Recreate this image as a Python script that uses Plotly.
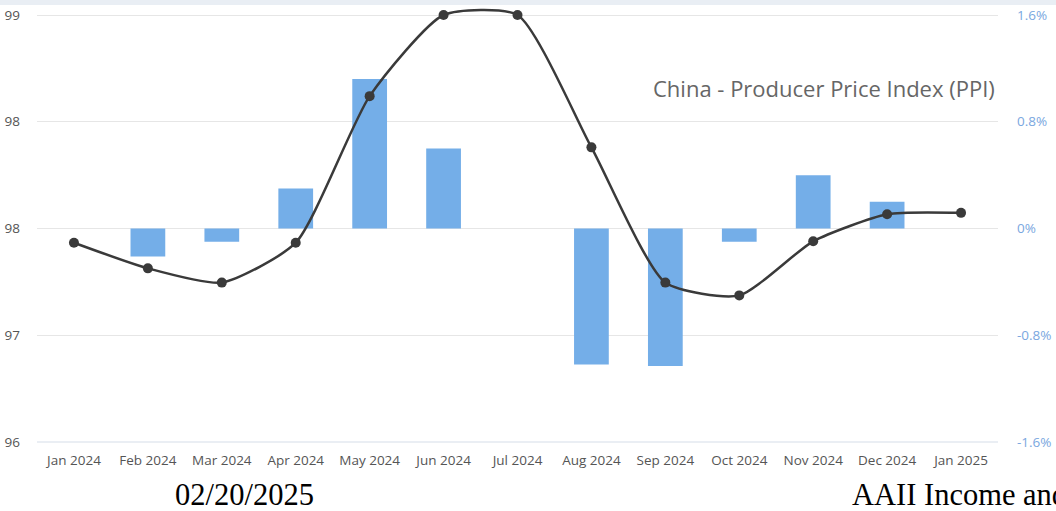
import plotly.graph_objects as go

months = ["Jan 2024", "Feb 2024", "Mar 2024", "Apr 2024", "May 2024", "Jun 2024",
          "Jul 2024", "Aug 2024", "Sep 2024", "Oct 2024", "Nov 2024", "Dec 2024", "Jan 2025"]
ppi_index = [97.40, 97.22, 97.12, 97.40, 98.43, 99.0, 99.0, 98.07, 97.12, 97.03, 97.41, 97.60, 97.61]
mom_change = [0.0, -0.21, -0.10, 0.30, 1.12, 0.60, 0.0, -1.02, -1.03, -0.10, 0.40, 0.20, 0.0]

left_ticks = [96, 96.75, 97.5, 98.25, 99]
left_text = ["96", "97", "98", "98", "99"]
right_ticks = [-1.6, -0.8, 0, 0.8, 1.6]
right_text = ["-1.6%", "-0.8%", "0%", "0.8%", "1.6%"]

# plot area: 5..442 px tall; axis values 96..99 and -1.6..1.6 occupy 15..442 px
PAD = 10 / 427  # fraction of the tick span added above the top tick

fig = go.Figure()
fig.add_trace(go.Bar(
    x=months, y=mom_change, yaxis="y", marker=dict(color="#74aee8", line=dict(width=0)),
    width=0.47, showlegend=False,
))
fig.add_trace(go.Scatter(
    x=months, y=ppi_index, yaxis="y2", mode="lines+markers", cliponaxis=False,
    line=dict(color="#3a3a3a", width=2.5, shape="spline", smoothing=0.6),
    marker=dict(color="#3a3a3a", size=10), showlegend=False,
))

fig.update_layout(
    width=1056, height=511,
    margin=dict(l=37, r=58, t=5, b=69),
    paper_bgcolor="white", plot_bgcolor="white",
    font=dict(family="Open Sans", color="#555555"),
    xaxis=dict(showgrid=False, showline=False, ticks="", tickfont=dict(size=13.5, color="#555555"),
               ticklabelstandoff=8, automargin=False, range=[-0.5, 12.5]),
    yaxis=dict(side="right", range=[-1.6, 1.6 + 3.2 * PAD], tickvals=right_ticks, ticktext=right_text,
               showgrid=True, gridcolor="#e6e6e6", gridwidth=1, zeroline=False, automargin=False,
               tickfont=dict(size=13.5, color="#7aa7e0"), ticks="", ticklabelstandoff=18),
    yaxis2=dict(side="left", overlaying="y", range=[96, 99 + 3 * PAD], tickvals=left_ticks,
                ticktext=left_text, showgrid=False, zeroline=False, automargin=False,
                tickfont=dict(size=13.5, color="#555555"), ticks="", ticklabelstandoff=16),
    bargap=0.5,
)

fig.add_shape(type="rect", xref="paper", yref="paper", x0=-0.05, x1=1.1, y0=1.0, y1=1.02,
              fillcolor="#e9eef4", line=dict(width=0), layer="below")
fig.add_shape(type="line", xref="paper", yref="paper", x0=0, x1=1, y0=0, y1=0,
              line=dict(color="#d5dde8", width=1))

H = 437.0
fig.add_annotation(text="China - Producer Price Index (PPI)", xref="paper", yref="paper",
                   x=0.999, y=(442 - 88) / H, xanchor="right", yanchor="middle", showarrow=False,
                   font=dict(family="Open Sans", size=22, color="#666666"))
fig.add_annotation(text="02/20/2025", xref="paper", yref="paper",
                   x=(173 - 37) / 961, y=(442 - 495) / H, xanchor="left", yanchor="middle",
                   showarrow=False, font=dict(family="Liberation Serif", size=30.5, color="black"))
fig.add_annotation(text="AAII Income and", xref="paper", yref="paper",
                   x=(850 - 37) / 961, y=(442 - 495) / H, xanchor="left", yanchor="middle",
                   showarrow=False, font=dict(family="Liberation Serif", size=30.5, color="black"))

fig.write_html("out.html")
